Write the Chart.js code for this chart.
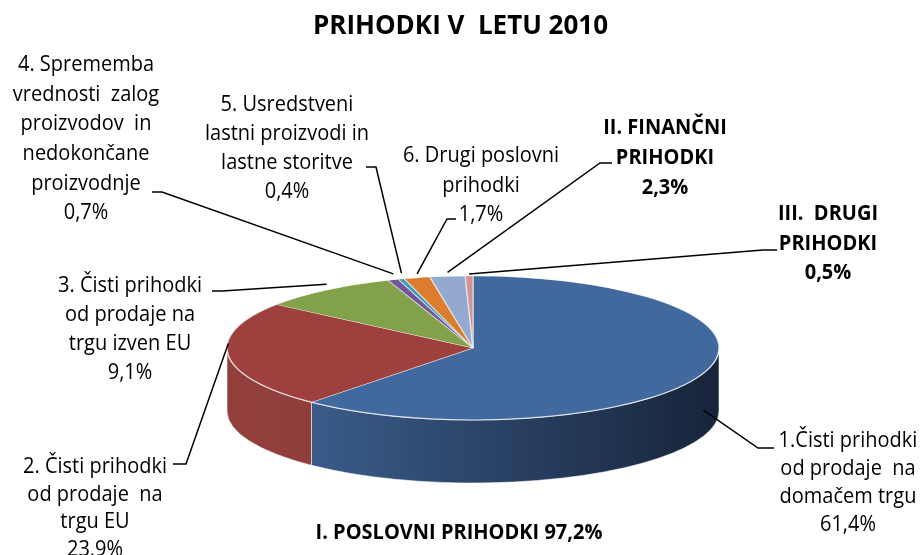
<!DOCTYPE html>
<html>
<head>
<meta charset="utf-8">
<script src="https://cdn.jsdelivr.net/npm/chart.js@4.4.1/dist/chart.umd.min.js"></script>
<style>
  html, body { margin: 0; padding: 0; background: #fff; }
  #wrap { width: 921px; height: 555px; }
</style>
</head>
<body>
<div id="wrap"><canvas id="pie" width="921" height="555"></canvas></div>
<script>
// --- Data ---
const chartTitle = 'PRIHODKI V  LETU 2010';
const categories = [
    ['1.Čisti prihodki', 'od prodaje  na', 'domačem trgu'],
    ['2. Čisti prihodki', 'od prodaje  na', 'trgu EU'],
    ['3. Čisti prihodki', 'od prodaje na', 'trgu izven EU'],
    ['4. Sprememba', 'vrednosti  zalog', 'proizvodov  in', 'nedokončane', 'proizvodnje'],
    ['5. Usredstveni', 'lastni proizvodi in', 'lastne storitve'],
    ['6. Drugi poslovni', 'prihodki'],
    ['II. FINANČNI', 'PRIHODKI'],
    ['III.  DRUGI', 'PRIHODKI']
];
const values = [61.4, 23.9, 9.1, 0.7, 0.4, 1.7, 2.3, 0.5];
const boldLabel = [false, false, false, false, false, false, true, true];
const groupLabel = 'I. POSLOVNI PRIHODKI';
const groupCount = 6; // items 1-6 belong to group I

// --- Styles ---
const topColors = ['#42699d', '#9e413e', '#83a04a', '#71579a', '#3f9bb4', '#dc7c2f', '#93a9d0', '#d29493'];
const sideLight = ['#41679a', '#93403d', '#7a9744', '#664f8c', '#3a8fa6', '#c9712a', '#8599bd', '#bf8584'];
const sideDark  = ['#17243a', '#7d3230', '#5f7634', '#4b3a68', '#2a6b7c', '#9a561f', '#63728e', '#8f6262'];

const PIE = { cx: 473, cy: 348, rx: 246, ry: 72, depth: 63 };

// label block centre / first line y / line height / leader stub / anchor drop
const labelPos = [
    { x: 848, y: 441, lh: 28, stub: [774, 448, 758, 448], dy: 37 },
    { x: 95,  y: 467, lh: 27.5, stub: [173, 464, 186, 464], dy: -12 },
    { x: 130, y: 286, lh: 29, stub: [212, 291, 222, 291], dy: -6 },
    { x: 86,  y: 65,  lh: 29.6, stub: [152, 192, 162, 192], dy: -6 },
    { x: 287, y: 105, lh: 29, stub: [366, 167, 376, 167], dy: -6 },
    { x: 481, y: 156, lh: 29.5, stub: [456, 219, 447, 219], dy: -4 },
    { x: 665, y: 128, lh: 30, stub: [612, 163, 600, 163], dy: -4 },
    { x: 828, y: 214, lh: 29.5, stub: [777, 250, 763, 250], dy: -2 }
];
const groupPos = { x: 459, y: 533 };

const fmt = v => v.toFixed(1).replace('.', ',') + '%';

// draws text a little taller than the font, like the stretched original
function tallText(ctx, t, x, y, sy) {
    ctx.save();
    ctx.translate(x, y);
    ctx.scale(1, sy);
    ctx.fillText(t, 0, 0);
    ctx.restore();
}

const pie3d = {
    id: 'pie3d',
    beforeDatasetsDraw(chart) {
        const ctx = chart.ctx;
        const arcs = chart.getDatasetMeta(0).data;
        // outer walls, only the front half is visible
        arcs.forEach((arc, i) => {
            const { startAngle, endAngle } = arc.getProps(['startAngle', 'endAngle'], true);
            const s = Math.max(startAngle, 0), e = Math.min(endAngle, Math.PI);
            if (s >= e) return;
            const g = ctx.createLinearGradient(PIE.cx - PIE.rx, 0, PIE.cx + PIE.rx, 0);
            g.addColorStop(0, sideLight[i]);
            g.addColorStop(1, sideDark[i]);
            ctx.beginPath();
            ctx.ellipse(PIE.cx, PIE.cy, PIE.rx, PIE.ry, 0, s, e);
            ctx.ellipse(PIE.cx, PIE.cy + PIE.depth, PIE.rx, PIE.ry, 0, e, s, true);
            ctx.closePath();
            ctx.fillStyle = g;
            ctx.fill();
            ctx.strokeStyle = 'rgba(255,255,255,0.55)';
            ctx.lineWidth = 1;
            ctx.stroke();
        });
        // squash the circular pie into the top face
        const a0 = arcs[0];
        ctx.save();
        ctx.translate(PIE.cx, PIE.cy);
        ctx.scale(PIE.rx / a0.outerRadius, PIE.ry / a0.outerRadius);
        ctx.translate(-a0.x, -a0.y);
    },
    afterDatasetsDraw(chart) {
        const ctx = chart.ctx;
        ctx.restore();
        const arcs = chart.getDatasetMeta(0).data;

        ctx.beginPath();
        ctx.ellipse(PIE.cx, PIE.cy, PIE.rx, PIE.ry, 0, 0, Math.PI);
        ctx.strokeStyle = 'rgba(255,255,255,0.6)';
        ctx.lineWidth = 1.2;
        ctx.stroke();

        ctx.fillStyle = '#000';
        ctx.textAlign = 'center';
        ctx.textBaseline = 'middle';
        arcs.forEach((arc, i) => {
            const p = labelPos[i];
            const lines = categories[i].concat(fmt(values[i]));
            ctx.font = (boldLabel[i] ? 'bold ' : '') + '20px "Open Sans"';
            lines.forEach((t, k) => tallText(ctx, t, p.x, p.y + k * p.lh, 1.08));

            const { startAngle, endAngle } = arc.getProps(['startAngle', 'endAngle'], true);
            const mid = (startAngle + endAngle) / 2;
            const ax = PIE.cx + PIE.rx * Math.cos(mid);
            const ay = PIE.cy + PIE.ry * Math.sin(mid) + p.dy;
            ctx.beginPath();
            ctx.moveTo(p.stub[0], p.stub[1]);
            ctx.lineTo(p.stub[2], p.stub[3]);
            ctx.lineTo(ax, ay);
            ctx.strokeStyle = '#000';
            ctx.lineWidth = 1.5;
            ctx.stroke();
        });

        const groupSum = values.slice(0, groupCount).reduce((a, b) => a + b, 0);
        ctx.font = 'bold 20px "Open Sans"';
        tallText(ctx, groupLabel + ' ' + fmt(groupSum), groupPos.x, groupPos.y, 1.08);
    }
};

new Chart(document.getElementById('pie'), {
    type: 'pie',
    data: {
        labels: categories.map(c => c.join(' ')),
        datasets: [{
            data: values,
            backgroundColor: topColors,
            borderColor: 'rgba(255,255,255,0.5)',
            borderWidth: 1,
            clip: false
        }]
    },
    options: {
        responsive: false,
        animation: false,
        events: [],
        layout: { padding: { left: 300, right: 300, top: 0, bottom: 40 } },
        plugins: {
            legend: { display: false },
            tooltip: { enabled: false },
            title: {
                display: true,
                text: chartTitle,
                color: '#000',
                font: { family: 'Open Sans', size: 26, weight: 'bold' },
                padding: { top: 11, bottom: 10 }
            }
        }
    },
    plugins: [pie3d]
});
</script>
</body>
</html>
